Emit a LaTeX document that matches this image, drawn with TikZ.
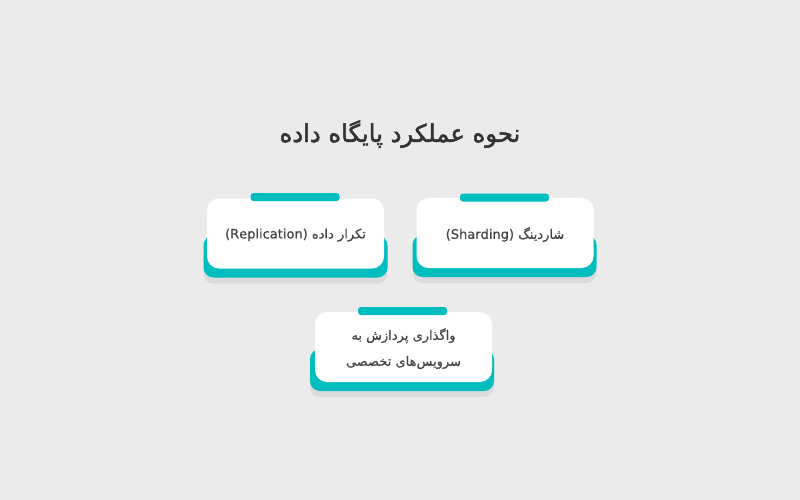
\documentclass[tikz,border=0pt]{standalone}
\usepackage{fontspec}
\newfontfamily\farsi[Script=Arabic, FakeBold=0.5]{DejaVu Sans}
\newfontfamily\farsititle[Script=Arabic, FakeBold=2]{DejaVu Sans}
\TeXXeTstate=1
\usetikzlibrary{shadows}
\definecolor{bggray}{RGB}{235,235,235}
\definecolor{cardteal}{RGB}{0,190,192}
\definecolor{textgray}{RGB}{68,68,68}
\definecolor{titlegray}{RGB}{51,51,51}
\tikzstyle{title} = [text=titlegray, font=\farsititle\fontsize{24.3}{28}\selectfont]
\tikzstyle{card} = [rectangle, rounded corners=12pt, minimum width=177pt, minimum height=70pt, fill=white, text=textgray, align=center, text depth=0pt, font=\farsi\fontsize{13}{26}\selectfont]
\tikzstyle{base} = [rectangle, rounded corners=10pt, minimum width=184pt, minimum height=42pt, fill=cardteal, drop shadow={shadow xshift=0pt, shadow yshift=-6pt, opacity=0.14}]
\tikzstyle{tab} = [rectangle, rounded corners=3pt, minimum width=89pt, minimum height=8pt, inner sep=0pt, fill=cardteal]

\begin{document}
\begin{tikzpicture}[x=1pt, y=-1pt]
      \useasboundingbox (0,0) rectangle (800,500);
      \fill [bggray] (0,0) rectangle (800,500);

      \node (title) [title] at (400,134) {\beginR نحوه عملکرد پایگاه داده\endR};

      % replication
      \node (replbase) [base] at (295.5,256.5) {};
      \node (repl) [card] at (295.5,233.5) {\beginR تکرار داده \beginL(Replication)\endL\endR};
      \node (repltab) [tab] at (295,197) {};

      % sharding
      \node (shardbase) [base] at (504.5,256) {};
      \node (shard) [card] at (505,233) {\beginR شاردینگ \beginL(Sharding)\endL\endR};
      \node (shardtab) [tab] at (504.5,197.5) {};

      % services
      \node (servbase) [base] at (402,370) {};
      \node (serv) [card] at (403.5,347) {\beginR واگذاری پردازش به\endR\\\beginR سرویس‌های تخصصی\endR};
      \node (servtab) [tab] at (402.5,311) {};
\end{tikzpicture}
\end{document}
